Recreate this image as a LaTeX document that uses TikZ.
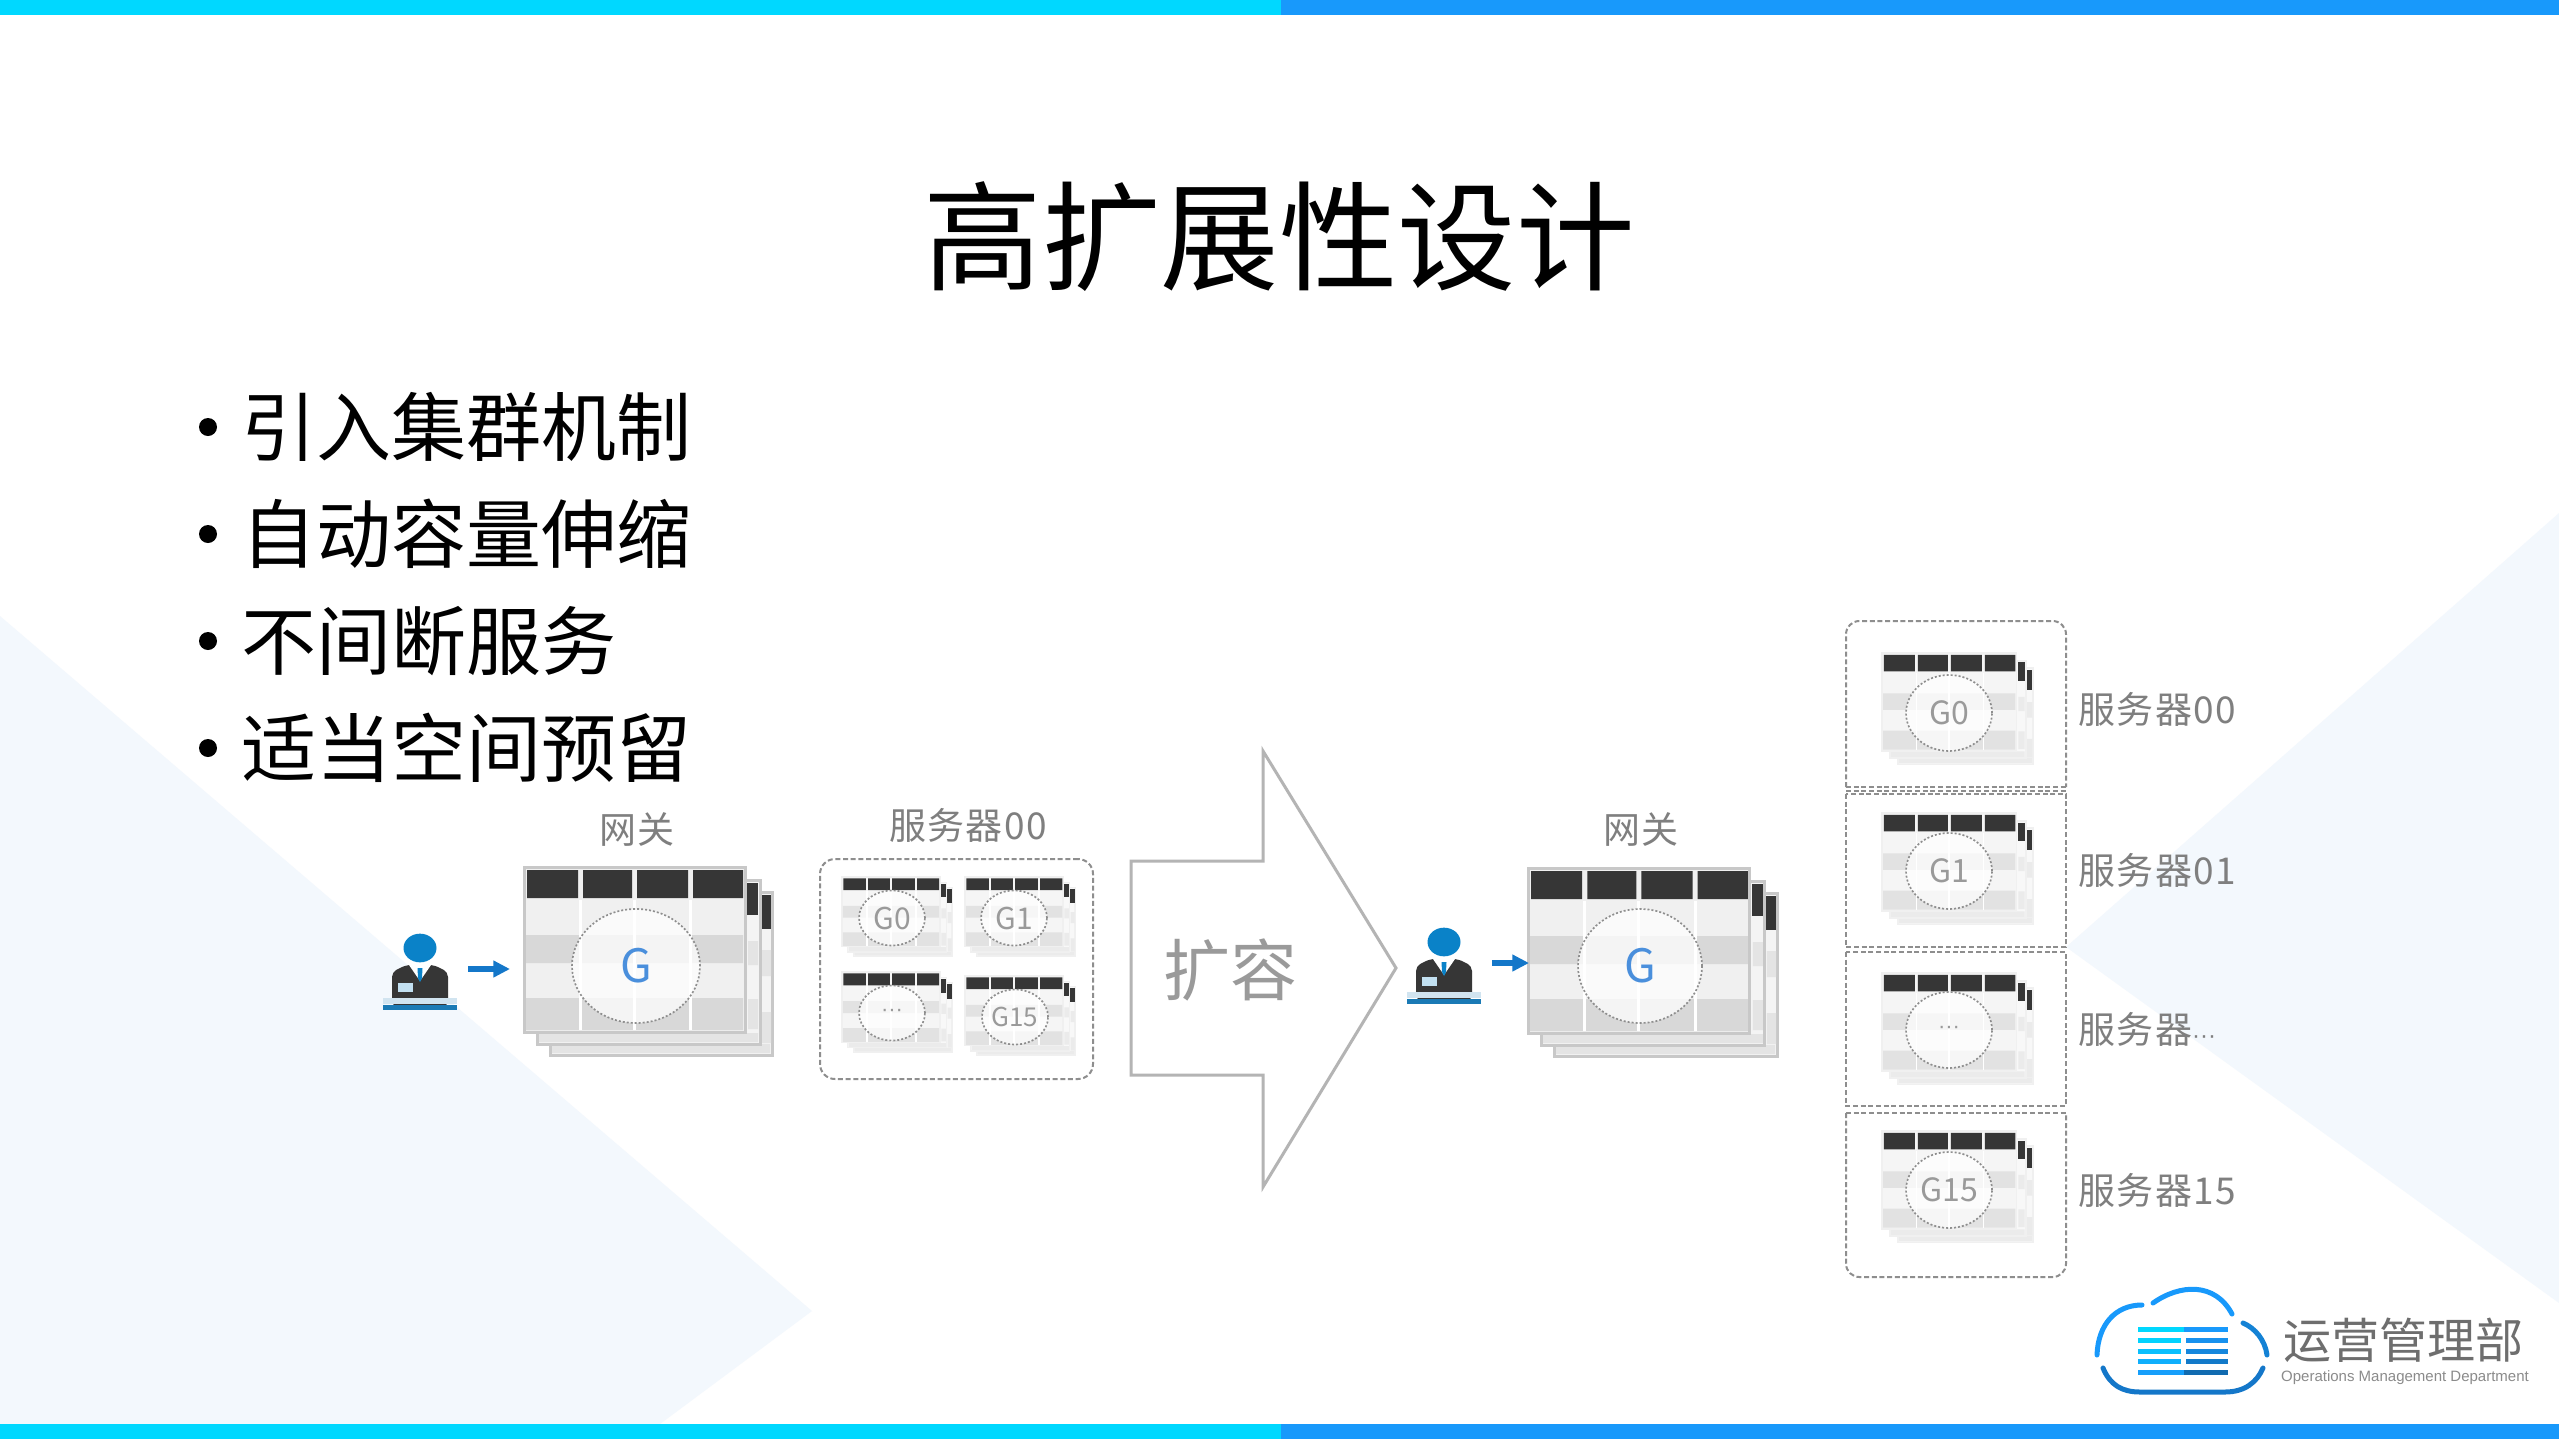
\documentclass[tikz,border=0pt]{standalone}
\usepackage{fontspec}
\setmainfont{Noto Sans CJK SC}
\newfontfamily\latinf{Liberation Sans}
\newfontfamily\labelf[LetterSpace=4]{Noto Sans CJK SC}
\usetikzlibrary{arrows.meta,shapes.geometric}
\definecolor{barcyan}{HTML}{00D8FF}
\definecolor{barblue}{HTML}{1899FB}
\definecolor{bgtri}{HTML}{F3F8FD}
\definecolor{tbhead}{HTML}{363636}
\definecolor{tbedgeA}{HTML}{C8C8C8}
\definecolor{tbedgeB}{HTML}{F0F0F0}
\definecolor{tblabel}{HTML}{7F7F7F}
\definecolor{tbtext}{HTML}{9A9A9A}
\definecolor{gblue}{HTML}{4A8FDC}
\definecolor{persblue}{HTML}{0A82C8}
\definecolor{persbase}{HTML}{1A7AB5}
\definecolor{arrblue}{HTML}{1477C9}
\definecolor{panelline}{HTML}{8E8E8E}
\definecolor{bigline}{HTML}{B4B4B4}
\definecolor{logotext}{HTML}{6E6E6E}
\definecolor{bandA}{HTML}{D8D8D8}
\definecolor{lightA}{HTML}{F0F0F0}
\definecolor{bandB}{HTML}{E2E2E2}
\definecolor{lightB}{HTML}{F5F5F5}
\newcommand\pxf[1]{\pgfmathsetmacro\pxsz{#1*0.8536}\fontsize{\pxsz pt}{\pxsz pt}\selectfont}
\tikzset{
  titletext/.style={inner sep=0pt,text=black,font=\pxf{118.5}},
  bullettext/.style={inner sep=0pt,anchor=west,text=black,font=\pxf{75}},
  bulletdot/.style={circle,fill=black,inner sep=0pt,minimum size=5.4mm},
  graylabel/.style={inner sep=0pt,text=tblabel,font={\labelf\pxf{37}}},
  dashpanel/.style={draw=panelline,line width=0.6mm,dash pattern=on 1.5mm off 0.8mm},
  tbcircle/.style={ellipse,draw=panelline,line width=0.5mm,dash pattern=on 0.6mm off 0.6mm,fill=white,fill opacity=0.72,text opacity=1,inner sep=0pt},
  cloudline/.style={line width=1.5mm,line cap=round},
  flowarrow/.style={draw=arrblue,line width=1.6mm,-{Triangle[length=5mm,width=4.8mm,fill=arrblue]}},
}
% x y xscale yscale edgewidth bandcolour lightcolour edgecolour
\newcommand\gwtable[8]{%
\begin{scope}[shift={(#1,#2)},xscale=#3,yscale=#4]
  \filldraw[fill=#7!70!white,draw=#8,line width=#5mm] (26,25) rectangle (248,188);
  \fill[#6!70!white] (238,83) rectangle (247,109) (238,145) rectangle (247,176) (28,177) rectangle (246,186);
  \fill[tbhead] (237,28) rectangle (247,62);
  \filldraw[fill=#7!70!white,draw=#8,line width=#5mm] (13,13) rectangle (236,177);
  \fill[#6!70!white] (224,74) rectangle (234,98) (224,132) rectangle (234,162) (15,166) rectangle (234,175);
  \fill[tbhead] (223,16) rectangle (234,48);
  \filldraw[fill=#7,draw=#8,line width=#5mm] (0,0) rectangle (221,165);
  \fill[#6] (2,68) rectangle (219,96) (2,131) rectangle (219,163);
  \fill[tbhead] (3,3) rectangle (54,31) (59,3) rectangle (108,31) (113,3) rectangle (164,31) (169,3) rectangle (219,31);
  \draw[white,line width=#5mm] (56.5,33) -- (56.5,163) (110.5,33) -- (110.5,163) (166.5,33) -- (166.5,163);
\end{scope}}
% name cx cy rx ry style text
\newcommand\gwcircle[7]{\node[tbcircle,minimum width={#4*0.6mm},minimum height={#5*0.6mm},#6] (#1) at (#2,#3) {#7};}
% name x y
\newcommand\agent[3]{%
\begin{scope}[shift={(#2,#3)}]
  \node[ellipse,fill=persblue,inner sep=0pt,minimum width=9.9mm,minimum height=8.6mm] (#1) at (0,0) {};
  \fill[tbhead,rounded corners=1.5mm] (-28,58) -- (-28,24) -- (-14,17) -- (14,17) -- (28,24) -- (28,58) -- cycle;
  \fill[tbhead] (-28,40) rectangle (28,54);
  \fill[white] (-11,17) -- (11,17) -- (0,33) -- cycle;
  \fill[persblue] (-2.5,20) -- (2.5,20) -- (2,30) -- (0,34) -- (-2,30) -- cycle;
  \fill[persblue!25!white] (-22,35) rectangle (-7,44);
  \fill[persbase!20!white] (-37,50) rectangle (37,56);
  \fill[persbase] (-37,57) rectangle (37,62);
\end{scope}}
\begin{document}
\begin{tikzpicture}[x=0.3mm,y=-0.3mm]
\useasboundingbox (0,0) rectangle (2559,1439);
\fill[white] (0,0) rectangle (2559,1439);
% background triangles
\fill[bgtri] (0,616) -- (812,1311) -- (660,1424) -- (0,1424) -- cycle;
\fill[bgtri] (2559,513) -- (2066,947) -- (2559,1303) -- cycle;
% bars
\fill[barcyan] (0,0) rectangle (1281,15);
\fill[barblue] (1281,0) rectangle (2559,15);
\fill[barcyan] (0,1424) rectangle (1281,1439);
\fill[barblue] (1281,1424) rectangle (2559,1439);
% title
\node[titletext] (title) at (1279,237) {高扩展性设计};
% bullets
\node[bulletdot] (d1) at (208,427) {};
\node[bullettext] (b1) at (241,427) {引入集群机制};
\node[bulletdot] (d2) at (208,534) {};
\node[bullettext] (b2) at (241,534) {自动容量伸缩};
\node[bulletdot] (d3) at (208,641) {};
\node[bullettext] (b3) at (241,641) {不间断服务};
\node[bulletdot] (d4) at (208,748) {};
\node[bullettext] (b4) at (241,748) {适当空间预留};
% left gateway
\node[graylabel] (gwlabelA) at (637,829) {网关};
\gwtable{524}{867}{1}{1}{0.9}{bandA}{lightA}{tbedgeA}
\gwcircle{gA}{636}{966}{64}{57}{text=gblue,font=\pxf{46}}{G}
\agent{personA}{420}{948}
\coordinate (arrAs) at (468,969);
\coordinate (arrAe) at (510,969);
\draw[flowarrow] (arrAs) -- (arrAe);
% left server panel
\node[graylabel] (srvlabel) at (968,825) {服务器00};
\node[dashpanel,rounded corners=4.5mm,minimum width=81.9mm,minimum height=66mm,inner sep=0pt] (panelL) at (956.5,969) {};
\gwtable{842}{877}{0.444}{0.423}{0.4}{bandB}{lightB}{tbedgeB}
\gwtable{965}{877}{0.444}{0.423}{0.4}{bandB}{lightB}{tbedgeB}
\gwtable{842}{972}{0.444}{0.428}{0.4}{bandB}{lightB}{tbedgeB}
\gwtable{965}{976}{0.444}{0.423}{0.4}{bandB}{lightB}{tbedgeB}
\gwcircle{mG0}{892}{918}{33}{27.5}{text=tbtext,font=\pxf{30}}{G0}
\gwcircle{mG1}{1014}{918}{33}{27.5}{text=tbtext,font=\pxf{30}}{G1}
\gwcircle{mGd}{892}{1013}{33}{27.5}{text=tbtext,font={\latinf\pxf{22}}}{···}
\gwcircle{mG15}{1015}{1017}{33}{27.5}{text=tbtext,font=\pxf{26}}{G15}
% big arrow
\filldraw[fill=white,draw=bigline,line width=0.9mm,line join=miter] (1131,861) -- (1263,861) -- (1263,751) -- (1396,968) -- (1263,1187) -- (1263,1075) -- (1131,1075) -- cycle;
\node[inner sep=0pt,text=tbtext,font=\pxf{67}] (expand) at (1230,970) {扩容};
% right gateway
\node[graylabel] (gwlabelB) at (1641,829) {网关};
\gwtable{1528}{868}{1.004}{1}{0.9}{bandA}{lightA}{tbedgeA}
\gwcircle{gB}{1640}{966}{62}{57}{text=gblue,font=\pxf{46}}{G}
\agent{personB}{1444}{942}
\coordinate (arrBs) at (1492,963);
\coordinate (arrBe) at (1529,963);
\draw[flowarrow] (arrBs) -- (arrBe);
% right server panels
\draw[dashpanel,rounded corners=4mm] (1846,787) -- (1846,621) -- (2066,621) -- (2066,787);
\draw[dashpanel] (1846,787) -- (2066,787);
\draw[dashpanel] (1846,791) -- (2066,791);
\draw[dashpanel] (1846,794) rectangle (2066,947);
\draw[dashpanel] (1846,952) rectangle (2066,1106);
\draw[dashpanel] (1846,1113) -- (2066,1113);
\draw[dashpanel,rounded corners=4mm] (1846,1113) -- (1846,1277) -- (2066,1277) -- (2066,1113);
\foreach \ty in {653,813,973,1131}{\gwtable{1882}{\ty}{0.609}{0.593}{0.5}{bandB}{lightB}{tbedgeB}}
\gwcircle{rG0}{1949}{713}{43}{38}{text=tbtext,font=\pxf{32}}{G0}
\gwcircle{rG1}{1949}{871}{43}{38}{text=tbtext,font=\pxf{32}}{G1}
\gwcircle{rGd}{1949}{1030}{43}{38}{text=tbtext,font={\latinf\pxf{22}}}{···}
\gwcircle{rG15}{1949}{1190}{43}{38}{text=tbtext,font=\pxf{32}}{G15}
\node[graylabel,anchor=west] (sl0) at (2078,709) {服务器00};
\node[graylabel,anchor=west] (sl1) at (2078,870) {服务器01};
\node[graylabel,anchor=west] (sl2) at (2078,1029) {服务器{\latinf\pxf{24}···}};
\node[graylabel,anchor=west] (sl3) at (2078,1190) {服务器15};
% logo
\draw[cloudline,draw=barblue] (2142,1305) .. controls (2115,1305) and (2098,1325) .. (2097,1355);
\draw[cloudline,draw=barblue] (2153,1303) .. controls (2180,1284) and (2215,1282) .. (2232,1314);
\draw[cloudline,draw=barblue!85!black] (2243,1323) .. controls (2255,1328) and (2265,1340) .. (2267,1355);
\draw[cloudline,draw=arrblue] (2103,1368) .. controls (2110,1385) and (2122,1392) .. (2140,1392) -- (2225,1392) .. controls (2245,1392) and (2257,1382) .. (2263,1368);
\fill[barcyan] (2138,1327) rectangle (2184,1332);
\fill[barblue] (2184,1327) rectangle (2228,1332);
\fill[barcyan!90!barblue] (2138,1338) rectangle (2181,1343);
\fill[barblue!95!black] (2186,1338) rectangle (2228,1343);
\fill[barcyan!60!barblue] (2138,1349) rectangle (2181,1354);
\fill[barblue!88!black] (2186,1349) rectangle (2228,1354);
\fill[barcyan!35!barblue] (2138,1359) rectangle (2181,1364);
\fill[barblue!80!black] (2186,1359) rectangle (2228,1364);
\fill[barcyan!10!barblue] (2138,1370) rectangle (2184,1375);
\fill[barblue!70!black] (2184,1370) rectangle (2228,1375);
\node[inner sep=0pt,text=logotext,font=\pxf{48}] (logoA) at (2403,1340) {运营管理部};
\node[inner sep=0pt,text=logotext!80!white,font={\latinf\pxf{15}}] (logoB) at (2405,1378) {Operations Management Department};
\end{tikzpicture}
\end{document}
